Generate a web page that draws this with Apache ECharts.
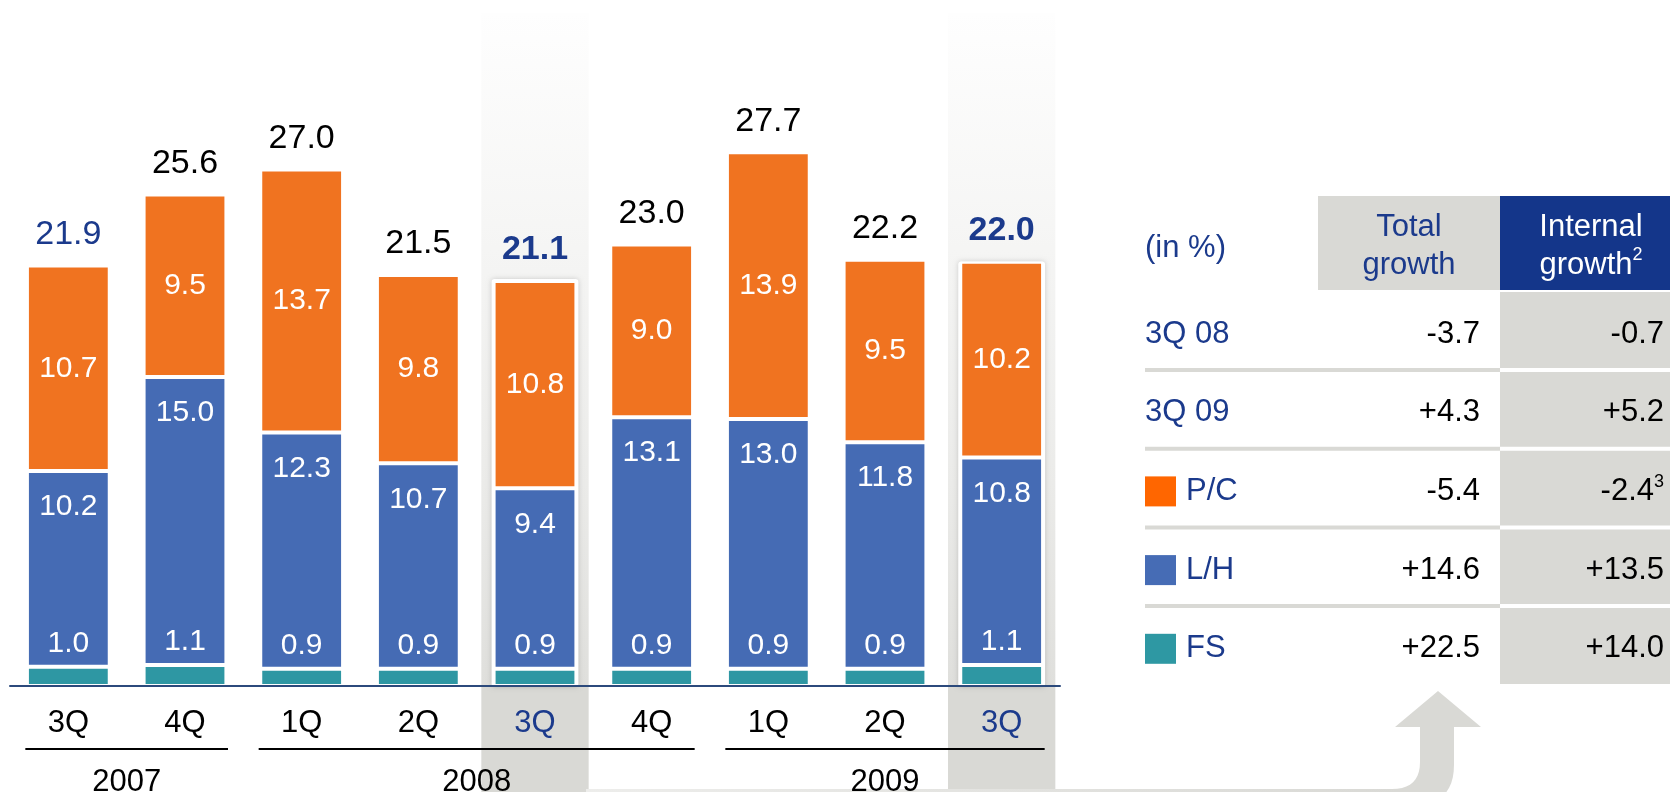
<!DOCTYPE html>
<html><head><meta charset="utf-8">
<script src="https://cdn.jsdelivr.net/npm/echarts@6/dist/echarts.min.js"></script>
<style>html,body{margin:0;padding:0;background:#fff}#c{width:1670px;height:792px}</style>
</head><body><div id="c"></div>
<script>
// ---- data ----
const categories = ['3Q','4Q','1Q','2Q','3Q','4Q','1Q','2Q','3Q'];
const fsValues = [1.0, 1.1, 0.9, 0.9, 0.9, 0.9, 0.9, 0.9, 1.1];
const lhValues = [10.2, 15.0, 12.3, 10.7, 9.4, 13.1, 13.0, 11.8, 10.8];
const pcValues = [10.7, 9.5, 13.7, 9.8, 10.8, 9.0, 13.9, 9.5, 10.2];
const totals = [21.9, 25.6, 27.0, 21.5, 21.1, 23.0, 27.7, 22.2, 22.0];
const highlighted = [4, 8];
const blueTotals = [0, 4, 8];
const yearGroups = [
  {year:'2007', from:0, to:1},
  {year:'2008', from:2, to:5},
  {year:'2009', from:6, to:8}
];
const tableRows = ['3Q 08', '3Q 09', 'P/C', 'L/H', 'FS'];
const rowSwatches = [null, null, '#ff6600', '#466cb5', '#2e98a3'];
const totalGrowth = ['-3.7', '+4.3', '-5.4', '+14.6', '+22.5'];
const internalGrowth = ['-0.7', '+5.2', '-2.4', '+13.5', '+14.0'];
const internalNotes = ['', '', '3', '', ''];

// ---- style ----
const FONT = '"Liberation Sans", Arial, Helvetica, sans-serif';
const DARKBLUE = '#1b3a8c';
const HEADBLUE = '#14368a';
const GRAY = '#d9d9d5';
const ORANGE = '#f07320', BLUE = '#456bb4', TEAL = '#2e97a3';
const yMax = 35;
const BARW = 0.71;

const chart = echarts.init(document.getElementById('c'), null, {renderer:'canvas'});

function renderBand(params, api) {
  const idx = api.value(0);
  const base = api.coord([idx, 0]);
  const top = api.coord([idx, yMax])[1] - 1;
  const w = api.size([1, 0])[0] * 0.92;
  const H = api.getHeight();
  return {type:'group', children:[
    {type:'rect', shape:{x:base[0]-w/2, y:top, width:w, height:base[1]-top},
      style:{fill:new echarts.graphic.LinearGradient(0,0,0,1,[
        {offset:0, color:'#fefefe'},{offset:0.35, color:'#f5f5f4'},
        {offset:0.7, color:'#ebebe9'},{offset:1, color:'#dfdfdc'}])}},
    {type:'rect', shape:{x:base[0]-w/2, y:base[1], width:w, height:H-base[1]},
      style:{fill:GRAY}}
  ]};
}
function renderFrame(params, api) {
  const idx = api.value(0), v = api.value(1);
  const base = api.coord([idx, 0]);
  const top = api.coord([idx, v]);
  const w = api.size([1, 0])[0] * BARW + 4;
  return {type:'rect',
    shape:{x:base[0]-w/2, y:top[1]-2, width:w, height:base[1]-top[1]+3, r:3},
    style:{fill:'#fff', shadowBlur:5, shadowColor:'rgba(0,0,0,0.18)'}};
}

const segLabel = {show:true, color:'#fff', fontSize:30, fontFamily:FONT,
  formatter: p => p.value.toFixed(1)};
const barStyle = c => ({color:c, borderColor:'#fff', borderWidth:2});

chart.setOption({
  animation:false,
  backgroundColor:'#fff',
  grid:{left:10, width:1050, top:14, bottom:106},
  xAxis:[{
    type:'category', data:categories, z:10,
    axisLine:{lineStyle:{color:'#2c4a7c', width:2}},
    axisTick:{show:false},
    axisLabel:{fontSize:31, fontFamily:FONT, margin:22,
      color:(v, i) => highlighted.includes(i) ? DARKBLUE : '#000'}
  }],
  yAxis:{type:'value', min:0, max:yMax, show:false, splitLine:{show:false}},
  series:[
    {type:'custom', name:'band', z:0, clip:false, silent:true,
      renderItem:renderBand, encode:{x:0}, data:highlighted.map(i => [i])},
    {type:'custom', name:'frame', z:1, clip:false, silent:true,
      renderItem:renderFrame, encode:{x:0, y:1}, data:highlighted.map(i => [i, totals[i]])},
    {type:'bar', name:'FS', stack:'t', z:3, barWidth:(BARW*100)+'%', data:fsValues,
      itemStyle:barStyle(TEAL),
      label:Object.assign({}, segLabel, {position:'top', distance:8})},
    {type:'bar', name:'L/H', stack:'t', z:2, barWidth:(BARW*100)+'%', data:lhValues,
      itemStyle:barStyle(BLUE),
      label:Object.assign({}, segLabel, {position:'insideTop', distance:21})},
    {type:'bar', name:'P/C', stack:'t', z:2, barWidth:(BARW*100)+'%', data:pcValues,
      itemStyle:barStyle(ORANGE),
      label:Object.assign({}, segLabel, {position:'inside'})},
    {type:'bar', name:'total', stack:'t', z:4, barWidth:(BARW*100)+'%', silent:true,
      itemStyle:{color:'rgba(0,0,0,0)', borderWidth:0},
      data:totals.map((v, i) => ({value:0, label:{
        color: blueTotals.includes(i) ? DARKBLUE : '#000000',
        fontWeight: highlighted.includes(i) ? 'bold' : 'normal'}})),
      label:{show:true, position:'top', distance:14, fontSize:34, fontFamily:FONT,
        formatter:p => totals[p.dataIndex].toFixed(1)}}
  ]
});

// ---- decorations: year groups, table, arrow ----
const px = i => chart.convertToPixel({xAxisIndex:0}, i);
const g = [];
yearGroups.forEach(gr => {
  const x1 = px(gr.from) - 43, x2 = px(gr.to) + 43;
  g.push({type:'line', shape:{x1:x1, y1:749, x2:x2, y2:749}, style:{stroke:'#000', lineWidth:2}, z:5});
  g.push({type:'text', x:(px(gr.from)+px(gr.to))/2, y:767, z:5,
    style:{text:gr.year, fill:'#000', font:'31px '+FONT, textAlign:'center', textVerticalAlign:'top'}});
});

// arrow (polygon with sampled curves)
function quad(p0, c, p1, n) {
  const pts = [];
  for (let k = 1; k <= n; k++) {
    const t = k / n, u = 1 - t;
    pts.push([u*u*p0[0] + 2*u*t*c[0] + t*t*p1[0], u*u*p0[1] + 2*u*t*c[1] + t*t*p1[1]]);
  }
  return pts;
}
const arrowPts = [[1438,691],[1481,727],[1454,727],[1454,765]]
  .concat(quad([1454,765],[1454,806],[1410,806],12))
  .concat([[586,806],[586,789],[1392,789]])
  .concat(quad([1392,789],[1420,789],[1420,762],10))
  .concat([[1420,727],[1395,727]]);
g.push({type:'polygon', z:1, shape:{points:arrowPts},
  style:{fill:new echarts.graphic.LinearGradient(586,0,1400,0,[
    {offset:0, color:'#ededeb'},{offset:1, color:GRAY}], true)}});

// table
const colL = 1145, colTot0 = 1318, colInt0 = 1500, colEnd = 1670;
const hdrTop = 196, hdrBot = 290, bodyTop = 292, bodyBot = 684;
const rowC0 = 334, rowStep = 78.7, sep0 = 370;
g.push({type:'text', x:colL, y:248, style:{text:'(in %)', fill:DARKBLUE, font:'31px '+FONT, textVerticalAlign:'middle'}});
g.push({type:'rect', shape:{x:colTot0, y:hdrTop, width:colInt0-colTot0, height:hdrBot-hdrTop}, style:{fill:GRAY}});
g.push({type:'rect', shape:{x:colInt0, y:hdrTop, width:colEnd-colInt0, height:hdrBot-hdrTop}, style:{fill:HEADBLUE}});
g.push({type:'text', x:(colTot0+colInt0)/2, y:246, style:{text:'Total\ngrowth', fill:DARKBLUE,
  font:'31px '+FONT, textAlign:'center', textVerticalAlign:'middle', lineHeight:38}});
g.push({type:'text', x:1591, y:246, style:{text:'Internal\ngrowth{sup|2}', fill:'#fff',
  font:'31px '+FONT, textAlign:'center', textVerticalAlign:'middle', lineHeight:38,
  rich:{sup:{fontSize:18, fill:'#fff', verticalAlign:'top', lineHeight:38, fontFamily:FONT}}}});
g.push({type:'rect', shape:{x:colInt0, y:bodyTop, width:colEnd-colInt0, height:bodyBot-bodyTop}, style:{fill:GRAY}});
for (let k = 0; k < tableRows.length - 1; k++) {
  const y = sep0 + k * rowStep;
  g.push({type:'rect', shape:{x:colL, y:y-2, width:colInt0-colL, height:4}, style:{fill:GRAY}});
  g.push({type:'rect', shape:{x:colInt0, y:y-2, width:colEnd-colInt0, height:4}, style:{fill:'#fff'}});
}
tableRows.forEach((name, k) => {
  const y = rowC0 + k * rowStep;
  let tx = colL;
  if (rowSwatches[k]) {
    g.push({type:'rect', shape:{x:colL, y:y-15, width:31, height:30}, style:{fill:rowSwatches[k]}});
    tx = 1186;
  }
  g.push({type:'text', x:tx, y:y, style:{text:name, fill:DARKBLUE, font:'31px '+FONT, textVerticalAlign:'middle'}});
  g.push({type:'text', x:1480, y:y, style:{text:totalGrowth[k], fill:'#000', font:'31px '+FONT,
    textAlign:'right', textVerticalAlign:'middle'}});
  const note = internalNotes[k];
  g.push({type:'text', x:1664, y:y, style:{
    text: internalGrowth[k] + (note ? '{sup|' + note + '}' : ''), fill:'#000', font:'31px '+FONT,
    textAlign:'right', textVerticalAlign:'middle',
    rich:{sup:{fontSize:18, fill:'#000', verticalAlign:'top', lineHeight:36, fontFamily:FONT}}}});
});

chart.setOption({graphic:{elements:g}});
</script></body></html>
